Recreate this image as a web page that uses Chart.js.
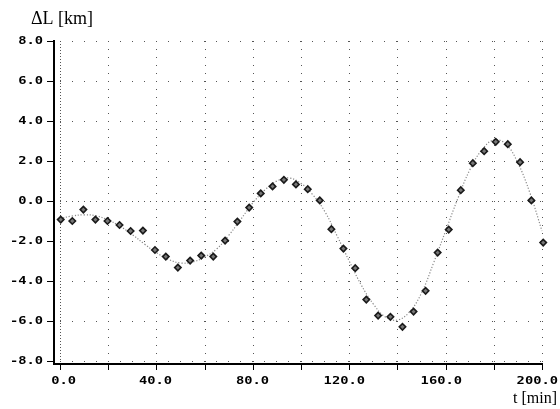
<!DOCTYPE html>
<html lang="en">
<head>
    <meta charset="UTF-8">
    <title>ΔL vs t</title>
    <script src="https://cdn.jsdelivr.net/npm/chart.js"></script>
    <style>
        body { margin: 0; background: #fff; }
        canvas { display: block; }
    </style>
</head>
<body>
    <canvas id="dlChart" width="560" height="409"></canvas>

    <script>
        // measured points (t in min, dL in km)
        const tMeas = [0.3, 5.1, 9.7, 14.7, 19.7, 24.7, 29.3, 34.4, 39.4, 43.9, 48.9, 54.0, 58.6, 63.6,
            68.5, 73.6, 78.5, 83.3, 88.2, 92.9, 97.9, 102.8, 107.8, 112.6, 117.6, 122.5, 127.1, 132.0,
            137.1, 142.1, 146.7, 151.7, 156.7, 161.3, 166.3, 171.3, 176.0, 180.8, 185.8, 190.9, 195.6, 200.5];
        const dLMeas = [-0.93, -1.0, -0.43, -0.93, -1.0, -1.2, -1.5, -1.48, -2.45, -2.78, -3.33, -2.98, -2.73, -2.78,
            -1.98, -1.03, -0.33, 0.38, 0.73, 1.06, 0.83, 0.59, 0.03, -1.41, -2.38, -3.36, -4.93, -5.73,
            -5.79, -6.29, -5.53, -4.49, -2.58, -1.43, 0.54, 1.89, 2.49, 2.96, 2.84, 1.94, 0.03, -2.08];

        // fitted curve
        const tFit = [0, 5, 10, 15, 20, 25, 30, 35, 40, 45, 50, 55, 60, 65, 70, 75, 80, 85, 90, 95, 100,
            105, 110, 115, 120, 125, 130, 135, 140, 145, 150, 155, 160, 165, 170, 175, 180, 185, 190, 195, 200];
        const dLFit = [-0.88, -0.75, -0.69, -0.74, -0.95, -1.27, -1.68, -2.15, -2.58, -2.92, -3.1, -3.05, -2.8,
            -2.4, -1.72, -0.92, -0.1, 0.55, 1.0, 1.15, 0.88, 0.3, -0.55, -1.75, -3.0, -4.2, -5.15, -5.8,
            -5.95, -5.55, -4.6, -3.1, -1.5, 0.1, 1.55, 2.55, 3.05, 2.85, 1.9, 0.4, -1.5];

        const xTickVals = [0, 20, 40, 60, 80, 100, 120, 140, 160, 180, 200];
        const xLabelVals = [0, 40, 80, 120, 160, 200];
        const yTickVals = [8, 6, 4, 2, 0, -2, -4, -6, -8];

        const xTitle = 't [min]';
        const yTitle = 'ΔL [km]';

        function drawWide(ctx, txt, x, y) {
            // the original labels use a wide bitmap-like font
            ctx.save();
            ctx.translate(x, y);
            ctx.scale(1.25, 1);
            ctx.fillText(txt, 0, 0);
            ctx.restore();
        }

        const axesPlugin = {
            id: 'axes',
            beforeDatasetsDraw(chart) {
                const { ctx, chartArea: a, scales: { x, y } } = chart;
                ctx.save();
                ctx.fillStyle = '#555';
                yTickVals.forEach(v => {
                    const py = Math.round(y.getPixelForValue(v));
                    const step = v === 0 ? 6 : 12;
                    for (let px = a.left; px <= a.right + 0.5; px += step) ctx.fillRect(Math.round(px), py, 1, 1);
                });
                xTickVals.forEach(v => {
                    const px = Math.round(x.getPixelForValue(v));
                    const step = v === 0 ? 3 : 8;
                    for (let py = a.top; py <= a.bottom + 0.5; py += step) ctx.fillRect(px, Math.round(py), 1, 1);
                });
                ctx.restore();
            },
            afterDraw(chart) {
                const { ctx, chartArea: a, scales: { x, y } } = chart;
                const axX = Math.round(a.left) - 7;
                const axY = Math.round(a.bottom) + 2;
                ctx.save();
                ctx.fillStyle = '#000';
                ctx.fillRect(axX, Math.round(a.top) - 1, 2, axY - a.top + 3);
                ctx.fillRect(axX, axY, Math.round(a.right) - axX + 1, 2);

                ctx.font = 'bold 11px "DejaVu Sans Mono"';
                ctx.textBaseline = 'middle';
                ctx.textAlign = 'right';
                yTickVals.forEach(v => {
                    const py = Math.round(y.getPixelForValue(v));
                    ctx.fillRect(axX - 6, py, 6, 1);
                    drawWide(ctx, v.toFixed(1), 43, py + 0.5);
                });
                xTickVals.forEach(v => {
                    const px = Math.round(x.getPixelForValue(v));
                    ctx.fillRect(px, axY + 2, 1, 5);
                });
                xLabelVals.forEach(v => {
                    const px = Math.round(x.getPixelForValue(v));
                    drawWide(ctx, v.toFixed(1), px + 16, 381);
                });

                ctx.textBaseline = 'alphabetic';
                ctx.font = '18px "Liberation Serif"';
                ctx.textAlign = 'left';
                ctx.fillText(yTitle, 31, 24);
                ctx.font = '16px "Liberation Serif"';
                ctx.textAlign = 'right';
                ctx.fillText(xTitle, 557, 403);
                ctx.restore();
            }
        };

        const ctx = document.getElementById('dlChart').getContext('2d');
        new Chart(ctx, {
            type: 'scatter',
            data: {
                datasets: [{
                    label: 'measured',
                    data: tMeas.map((t, i) => ({ x: t, y: dLMeas[i] })),
                    pointStyle: 'rectRot',
                    pointRadius: 3.2,
                    backgroundColor: '#777',
                    borderColor: '#1a1a1a',
                    borderWidth: 1.6,
                    clip: 8
                }, {
                    label: 'fit',
                    data: tFit.map((t, i) => ({ x: t, y: dLFit[i] })),
                    showLine: true,
                    pointRadius: 0,
                    borderColor: '#888',
                    borderWidth: 1.2,
                    borderDash: [1.2, 1.8],
                    tension: 0.4,
                    clip: 4
                }]
            },
            options: {
                responsive: false,
                animation: false,
                layout: { padding: { left: 60, right: 18, top: 41, bottom: 48 } },
                plugins: { legend: { display: false }, tooltip: { enabled: false } },
                scales: {
                    x: { type: 'linear', min: 0, max: 200, display: false },
                    y: { type: 'linear', min: -8, max: 8, display: false }
                }
            },
            plugins: [axesPlugin]
        });
    </script>
</body>
</html>
